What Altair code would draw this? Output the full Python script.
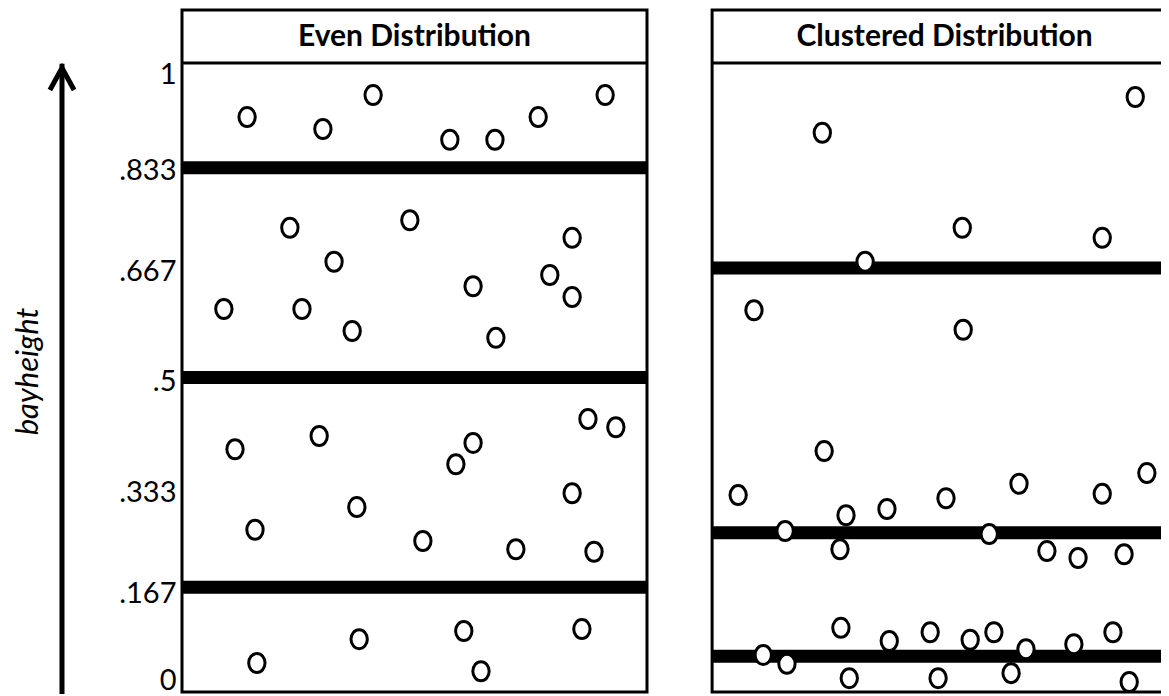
import json
import altair as alt
import pandas as pd

# ---------------- data ----------------
PANELS = ["Even Distribution", "Clustered Distribution"]

EVEN_X = [0.140, 0.303, 0.411, 0.576, 0.673, 0.766, 0.910,
          0.232, 0.490, 0.327, 0.090, 0.258, 0.366, 0.626, 0.791, 0.839, 0.839, 0.675,
          0.114, 0.295, 0.376, 0.157, 0.518, 0.718, 0.886, 0.839, 0.873, 0.933, 0.626, 0.589,
          0.161, 0.381, 0.606, 0.643, 0.860]
EVEN_Y = [0.914, 0.895, 0.949, 0.878, 0.878, 0.914, 0.949,
          0.738, 0.750, 0.684, 0.609, 0.609, 0.574, 0.645, 0.663, 0.722, 0.628, 0.563,
          0.386, 0.407, 0.294, 0.258, 0.240, 0.227, 0.223, 0.316, 0.434, 0.421, 0.396, 0.362,
          0.046, 0.084, 0.097, 0.033, 0.100]

CLUSTER_X = [0.237, 0.910, 0.538, 0.839, 0.329, 0.090, 0.540, 0.241, 0.056, 0.935,
             0.660, 0.839, 0.503, 0.376, 0.288, 0.157, 0.596, 0.275, 0.720, 0.787,
             0.886, 0.277, 0.381, 0.469, 0.555, 0.606, 0.675, 0.778, 0.862, 0.110,
             0.161, 0.295, 0.486, 0.643, 0.897]
CLUSTER_Y = [0.889, 0.946, 0.738, 0.722, 0.684, 0.607, 0.576, 0.383, 0.313, 0.348,
             0.331, 0.315, 0.308, 0.291, 0.281, 0.256, 0.251, 0.227, 0.224, 0.213,
             0.219, 0.102, 0.081, 0.095, 0.083, 0.095, 0.068, 0.076, 0.095, 0.059,
             0.045, 0.022, 0.022, 0.030, 0.016]

EVEN_CUTS = [1 / 6, 1 / 2, 5 / 6]
CLUSTER_CUTS = [0.057, 0.253, 0.674]

TICK_VALUES = [0, 1 / 6, 1 / 3, 1 / 2, 2 / 3, 5 / 6, 1]
TICK_LABELS = ["0", ".167", ".333", ".5", ".667", ".833", "1"]
Y_TITLE = "bayheight"

# ---------------- layout / style ----------------
PANEL_STEP = 1.14          # left edge of 2nd panel, in panel widths
PLOT_W = 979
X_MAX = PLOT_W / 465
Y_TOP = 1 + 53 / 629       # header band above value 1
FONT = "Lato"

X_SCALE = alt.Scale(domain=[0, X_MAX], nice=False, zero=False)
Y_SCALE = alt.Scale(domain=[0, Y_TOP], nice=False, zero=False)

OFFSET = f"indexof({json.dumps(PANELS)}, datum.panel) * {PANEL_STEP}"

points = pd.DataFrame({
    "panel": [PANELS[0]] * len(EVEN_X) + [PANELS[1]] * len(CLUSTER_X),
    "x": EVEN_X + CLUSTER_X,
    "y": EVEN_Y + CLUSTER_Y,
})
cuts = pd.DataFrame({
    "panel": [PANELS[0]] * len(EVEN_CUTS) + [PANELS[1]] * len(CLUSTER_CUTS),
    "y": EVEN_CUTS + CLUSTER_CUTS,
})
panels = pd.DataFrame({"panel": PANELS})

label_expr = ""
for v, lab in zip(TICK_VALUES, TICK_LABELS):
    label_expr += f"abs(datum.value - {v}) < 0.001 ? '{lab}' : "
label_expr += "''"

label_shift = {1: 11, 5 / 6: 3, 2 / 3: -1, 1 / 2: 4, 1 / 3: 10, 1 / 6: 6, 0: -12}
label_offset = {
    "condition": [{"test": f"abs(datum.value - {v}) < 0.001", "value": o}
                  for v, o in label_shift.items()],
    "value": 3,
}

Y_AXIS = alt.Axis(
    values=TICK_VALUES, labelExpr=label_expr, labelFont=FONT, labelFontSize=29,
    labelColor="black", labelPadding=6, labelOffset=label_offset,
    ticks=False, domain=False, grid=False,
    title=Y_TITLE, titleFont=FONT, titleFontSize=31, titleFontStyle="italic",
    titleFontWeight="normal", titleColor="black", titleAngle=270,
    titleBaseline="alphabetic", titleAlign="center", titleX=-145, titleY=361,
)


def ypos(field):
    return alt.Y(field, scale=Y_SCALE, axis=Y_AXIS)


frames = alt.Chart(panels).transform_calculate(
    x0=OFFSET, x1=f"{OFFSET} + 1", y0="0", y1=str(Y_TOP)
).mark_rect(filled=False, stroke="black", strokeWidth=3).encode(
    x=alt.X("x0:Q", scale=X_SCALE, axis=None),
    x2="x1:Q",
    y=ypos("y0:Q"),
    y2="y1:Q",
)

header_rule = alt.Chart(panels).transform_calculate(
    x0=OFFSET, x1=f"{OFFSET} + 1", y0="1"
).mark_rule(color="black", strokeWidth=3).encode(
    x=alt.X("x0:Q", scale=X_SCALE, axis=None),
    x2="x1:Q",
    y=ypos("y0:Q"),
)

header_text = alt.Chart(panels).transform_calculate(
    xc=f"{OFFSET} + 0.5", yc=str((1 + Y_TOP) / 2)
).mark_text(font=FONT, fontSize=30, fontWeight="bold", color="black",
            align="center", baseline="middle").encode(
    x=alt.X("xc:Q", scale=X_SCALE, axis=None),
    y=ypos("yc:Q"),
    text="panel:N",
)

cut_lines = alt.Chart(cuts).transform_calculate(
    x0=OFFSET, x1=f"{OFFSET} + 1"
).mark_rule(color="black", strokeWidth=13, strokeCap="butt").encode(
    x=alt.X("x0:Q", scale=X_SCALE, axis=None),
    x2="x1:Q",
    y=ypos("y:Q"),
)

ELLIPSE = "M0,-1 A0.86,1 0 1,1 0,1 A0.86,1 0 1,1 0,-1 Z"
dots = alt.Chart(points).transform_calculate(
    xp=f"datum.x + {OFFSET}"
).mark_point(shape=ELLIPSE, size=361, filled=True, fill="white", stroke="black",
             strokeWidth=3, opacity=1).encode(
    x=alt.X("xp:Q", scale=X_SCALE, axis=None),
    y=ypos("y:Q"),
)

arrow = alt.Chart(panels).transform_filter(
    f"datum.panel == '{PANELS[0]}'"
).transform_calculate(a0="0", a1="0.995", a2="1")

arrow_shaft = arrow.mark_rule(color="black", strokeWidth=5, strokeCap="square").encode(
    x=alt.value(-120),
    y=ypos("a0:Q"),
    y2="a1:Q",
)

arrow_head = arrow.mark_point(shape="M-1.1,2.45 L0,0.45 L1.1,2.45", size=484, filled=False,
                              stroke="black", strokeWidth=5, strokeJoin="miter",
                              opacity=1).encode(
    x=alt.value(-120),
    y=ypos("a2:Q"),
)

chart = alt.layer(
    frames, header_rule, cut_lines, dots, header_text, arrow_shaft, arrow_head
).properties(
    width=PLOT_W, height=682,
    autosize=alt.AutoSizeParams(type="none"),
    padding={"left": 174, "top": 2, "right": 0, "bottom": 2},
    background="white",
).configure_view(stroke=None)

chart.save("out.html", embed_options={"renderer": "svg", "actions": False})
